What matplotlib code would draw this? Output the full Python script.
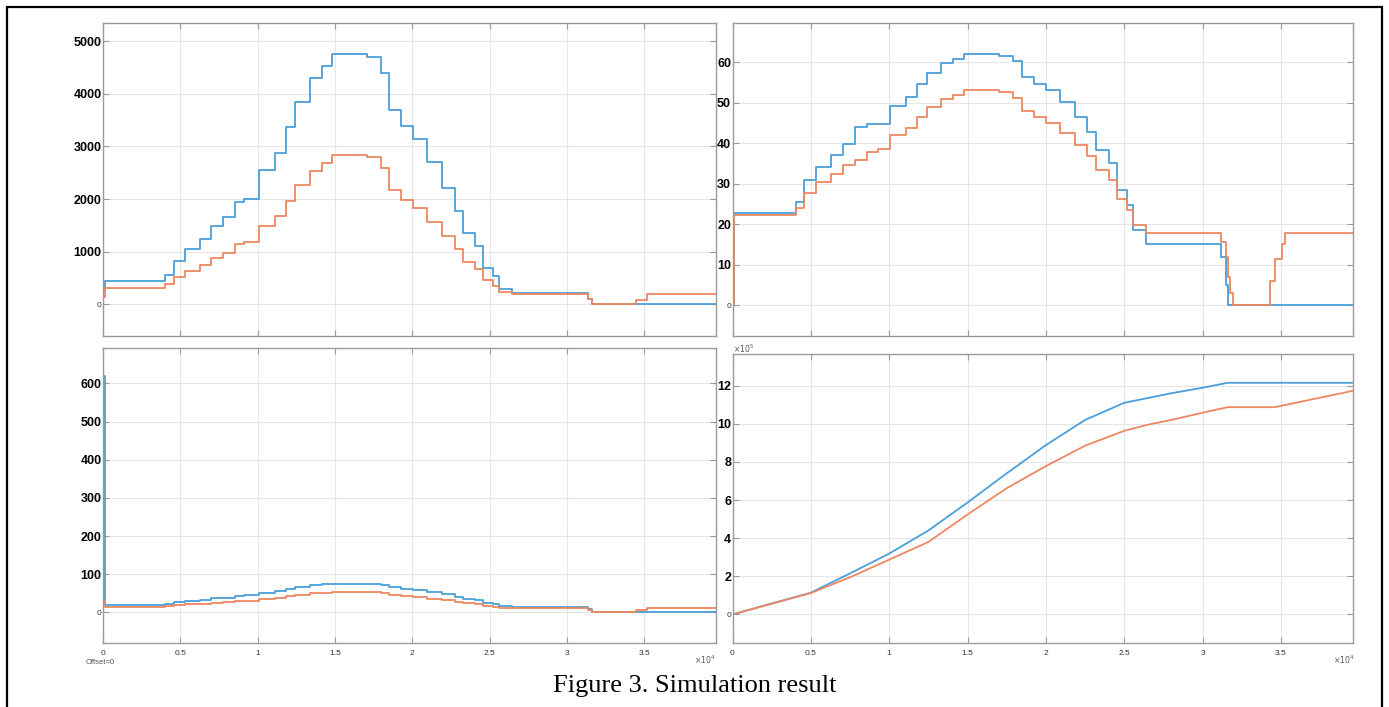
import matplotlib
matplotlib.use("Agg")
import matplotlib.pyplot as plt
from matplotlib.patches import Rectangle

# Data, time in seconds

# top-left / bottom-left step times
t_a = [0, 150, 4010, 4560, 5320, 6280, 7010, 7750, 8540, 9110, 10100, 11100,
       11840, 12400, 13400, 14160, 14820, 17050, 17980, 18500, 19290, 20060,
       20960, 21940, 22730, 23300, 24070, 24580, 25210, 25600, 26440, 31350,
       31620, 34430, 35200, 39600]

tl_blue = [250, 440, 560, 820, 1050, 1250, 1490, 1660, 1950, 2010, 2550, 2870,
           3370, 3850, 4300, 4520, 4760, 4690, 4390, 3700, 3390, 3150, 2700,
           2210, 1780, 1350, 1110, 700, 530, 300, 215, 110, 0, 0, 0, 0]
tl_orange = [150, 310, 380, 520, 640, 750, 880, 980, 1140, 1180, 1490, 1670,
             1960, 2260, 2540, 2680, 2840, 2800, 2600, 2170, 1980, 1830, 1560,
             1290, 1050, 810, 680, 460, 350, 240, 190, 110, 0, 85, 190, 190]

bl_blue = [620, 19.4, 22, 26.6, 30.7, 33.8, 37.5, 37.7, 43.6, 45, 51.8, 55.9,
           61.7, 67.2, 72, 74, 75.5, 75, 72.5, 65.6, 62, 59.4, 53.9, 47.6,
           41.7, 35.3, 31.5, 24.6, 21.5, 16.1, 14.1, 9, 0, 0, 0, 0]
bl_orange = [30, 13.9, 15.8, 18.7, 21.1, 23.2, 25.4, 27.4, 30.1, 30.6, 35.6,
             38.3, 42.2, 46.3, 50, 51.7, 53.6, 53.2, 50.8, 45.4, 42.6, 40.7,
             36.6, 32.6, 28.6, 24.3, 21.9, 17.5, 14.8, 12.1, 10.6, 7, 0, 7.5,
             10.6, 10.6]

# top-right step times
t_b = [0, 80, 4070, 4570, 5350, 6290, 7060, 7810, 8560, 9310, 10060, 11080,
       11750, 12410, 13320, 14100, 14790, 16980, 17920, 18450, 19250, 20000,
       20910, 21860, 22630, 23210, 24020, 24520, 25150, 25550, 26370, 31170,
       31500, 31640, 31720, 31910, 34320, 34630, 35050, 35260, 39600]

tr_blue = [0, 22.7, 25.5, 30.8, 34.2, 37, 39.7, 44, 44.7, 44.7, 49.2, 51.3,
           54.6, 57.3, 59.7, 60.8, 62, 61.6, 60.2, 56.4, 54.5, 53, 50.1, 46.4,
           42.7, 38.2, 35.2, 28.4, 24.6, 18.6, 15.2, 11.8, 5, 0, 0, 0, 0, 0,
           0, 0, 0]
tr_orange = [0, 22.3, 24, 27.8, 30.3, 32.3, 34.6, 35.8, 37.9, 38.5, 41.9, 43.6,
             46.4, 48.8, 50.8, 51.8, 53, 52.6, 51.2, 47.8, 46.5, 45, 42.6, 39.6,
             36.7, 33.4, 31, 26.3, 23.6, 19.9, 17.9, 15.5, 12, 7, 3, 0, 6, 11.4,
             15, 17.9, 17.9]

# bottom-right (x 1e5)
t_c = [0, 2500, 5000, 7500, 10000, 12500, 15000, 17500, 20000, 22500, 25000,
       26500, 28000, 30000, 31600, 34600, 39600]
br_blue = [0, 0.57, 1.14, 2.15, 3.19, 4.4, 5.87, 7.4, 8.88, 10.2, 11.1, 11.35,
           11.6, 11.89, 12.15, 12.15, 12.15]
br_orange = [0, 0.56, 1.12, 1.95, 2.87, 3.8, 5.24, 6.62, 7.78, 8.85, 9.63,
             9.95, 10.2, 10.58, 10.87, 10.87, 11.73]

x_ticks = [0, 5000, 10000, 15000, 20000, 25000, 30000, 35000]
x_labels = ["0", "0.5", "1", "1.5", "2", "2.5", "3", "3.5"]

BLUE = "#4a9fda"
ORANGE = "#ee8760"
W, H = 1389, 707

fig = plt.figure(figsize=(W / 100, H / 100), dpi=100)


def box(left, top, right, bottom):
    return [left / W, 1 - bottom / H, (right - left) / W, (bottom - top) / H]


def style(ax, ylim, yticks, xlabels):
    ax.set_xlim(0, 39600)
    ax.set_ylim(*ylim)
    ax.grid(True, color="#e6e6e6", lw=0.8)
    ax.set_axisbelow(True)
    for s in ax.spines.values():
        s.set_color("#9a9a9a")
        s.set_linewidth(1.0)
    ax.tick_params(direction="in", length=4, color="#9a9a9a", top=True,
                   right=True, pad=1)
    ax.set_xticks(x_ticks)
    if xlabels:
        ax.set_xticklabels(x_labels, fontsize=6, color="#333333",
                           family="Liberation Sans")
        ax.tick_params(axis="x", pad=5)
    else:
        ax.set_xticklabels([])
    ax.set_yticks(yticks)
    ax.set_yticklabels([str(v) for v in yticks])
    for lab in ax.get_yticklabels():
        if lab.get_text() == "0":
            lab.set_fontsize(6)
            lab.set_color("#333333")
        else:
            lab.set_fontsize(9)
            lab.set_fontweight("bold")
        lab.set_family("Liberation Sans")


ax1 = fig.add_axes(box(103, 22.7, 715.5, 336))
ax1.step(t_a, tl_blue, where="post", color=BLUE, lw=1.3)
ax1.step(t_a, tl_orange, where="post", color=ORANGE, lw=1.3)
style(ax1, (-600, 5350), [0, 1000, 2000, 3000, 4000, 5000], False)

ax2 = fig.add_axes(box(732.5, 22.7, 1353, 336))
ax2.step(t_b, tr_blue, where="post", color=BLUE, lw=1.3)
ax2.step(t_b, tr_orange, where="post", color=ORANGE, lw=1.3)
style(ax2, (-7.6, 69.7), [0, 10, 20, 30, 40, 50, 60], False)

ax3 = fig.add_axes(box(103, 348, 715.5, 643))
ax3.step(t_a, bl_blue, where="post", color=BLUE, lw=1.3)
ax3.step(t_a, bl_orange, where="post", color=ORANGE, lw=1.3)
style(ax3, (-80, 693), [0, 100, 200, 300, 400, 500, 600], True)

ax4 = fig.add_axes(box(732.5, 354, 1353, 643))
ax4.plot(t_c, br_blue, color=BLUE, lw=1.3)
ax4.plot(t_c, br_orange, color=ORANGE, lw=1.3)
style(ax4, (-1.5, 13.66), [0, 2, 4, 6, 8, 10, 12], True)

# small annotations like in the scope window
small = dict(fontsize=5.5, color="#555555", family="Liberation Sans")
fig.text(86 / W, 1 - 663 / H, "Offset=0", ha="left", va="center", **small)
fig.text(715 / W, 1 - 660 / H, r"$\times10^4$", ha="right", va="center", **small)
fig.text(1354 / W, 1 - 660 / H, r"$\times10^4$", ha="right", va="center", **small)
fig.text(733 / W, 1 - 349 / H, r"$\times10^5$", ha="left", va="center", **small)

fig.text(695 / W, 1 - 686 / H, "Figure 3. Simulation result", ha="center",
         va="center", fontsize=19, family="Liberation Serif")

# outer frame around the figure
fig.patches.append(Rectangle((7 / W, -0.01), (1382 - 7) / W, 1.0 - 7 / H + 0.01,
                             transform=fig.transFigure, fill=False,
                             edgecolor="black", lw=1.6))

fig.savefig("out.png", dpi=100)
